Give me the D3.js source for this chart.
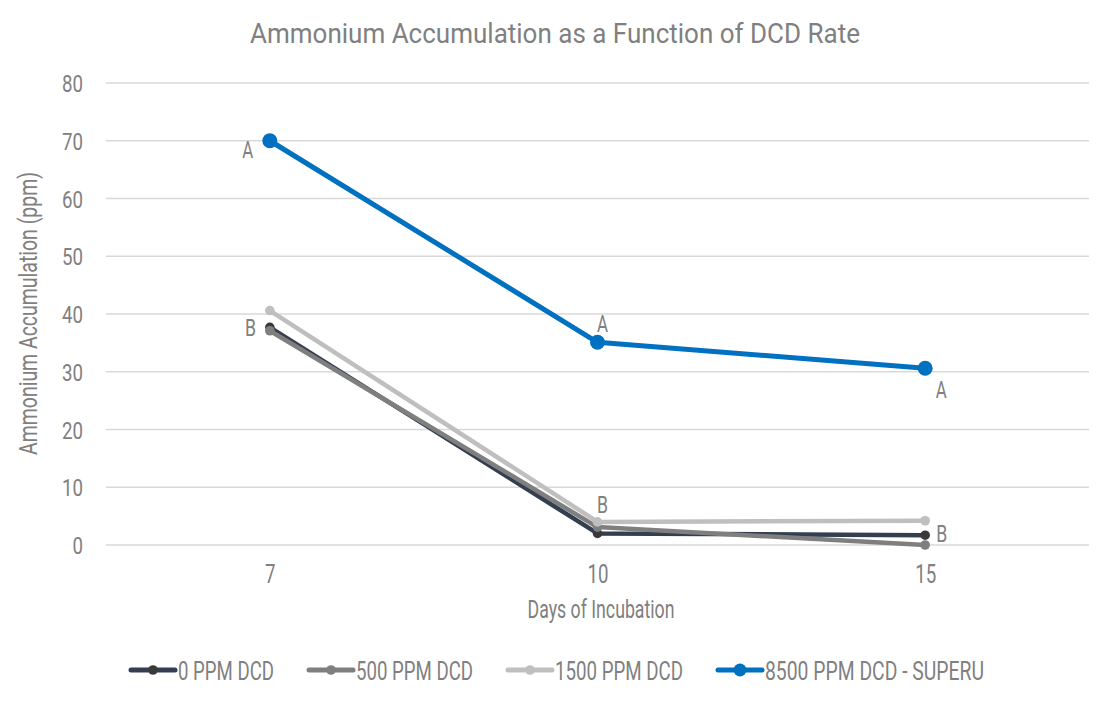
<!DOCTYPE html>
<html>
<head>
<meta charset="utf-8">
<script src="https://cdn.jsdelivr.net/npm/d3@7"></script>
<style>
  html, body { margin: 0; padding: 0; background: #ffffff; }
  svg { display: block; }
  text { font-family: "Roboto", "Liberation Sans", sans-serif; fill: #808080; }
</style>
</head>
<body>
<svg id="chart" width="1112" height="705"></svg>
<script>
// ---------------- data ----------------
const days = ["7", "10", "15"];
const yTicks = [0, 10, 20, 30, 40, 50, 60, 70, 80];
const seriesNames = ["0 PPM DCD", "500 PPM DCD", "1500 PPM DCD", "8500 PPM DCD - SUPERU"];
const dcd0 = [37.7, 2.0, 1.7];
const dcd500 = [37.1, 3.1, 0.0];
const dcd1500 = [40.6, 4.0, 4.2];
const dcd8500 = [70.0, 35.1, 30.6];
// letter labels: [series index, day index, text, placement]
const letterLabels = [
  [3, 0, "A", "left"],
  [3, 1, "A", "above"],
  [3, 2, "A", "below"],
  [0, 0, "B", "left"],
  [2, 1, "B", "above"],
  [0, 2, "B", "right"]
];
const titleText = "Ammonium Accumulation as a Function of DCD Rate";
const xTitle = "Days of Incubation";
const yTitle = "Ammonium Accumulation (ppm)";

// ---------------- styles ----------------
const lineColors = ["#333f50", "#7f7f7f", "#bfbfbf", "#0070c0"];
const markerColors = ["#3a3a3a", "#7f7f7f", "#bfbfbf", "#0070c0"];
const markerR = [4.8, 4.8, 4.8, 7.5];
const legendMarkerR = [4.8, 4.8, 4.8, 6.5];
const lineW = [4.5, 4.5, 4.5, 5];
const charW = 10.5; // condensed digit width

const svg = d3.select("#chart");
const plot = { left: 106, right: 1089, top: 83, bottom: 545 };

const x = d3.scalePoint().domain(days).range([plot.left, plot.right]).padding(0.5);
const y = d3.scaleLinear().domain([0, 80]).range([plot.bottom, plot.top]);

function fit(sel, w) {
  sel.attr("textLength", w).attr("lengthAdjust", "spacingAndGlyphs");
}

// title
svg.append("text").attr("x", 555).attr("y", 43).attr("text-anchor", "middle")
  .style("font-size", "27.5px").text(titleText).call(fit, 610);

// gridlines
svg.append("g").selectAll("line").data(yTicks).join("line")
  .attr("x1", plot.left).attr("x2", plot.right)
  .attr("y1", d => y(d)).attr("y2", d => y(d))
  .attr("stroke", "#d9d9d9").attr("stroke-width", 1.5);

// y axis
const yAxis = d3.axisLeft(y).tickValues(yTicks).tickSize(0).tickPadding(0);
const gy = svg.append("g").attr("transform", "translate(83,0)").call(yAxis);
gy.select(".domain").remove();
gy.selectAll("text").style("font-size", "24px").attr("fill", "#808080")
  .attr("font-family", null).attr("dy", "0.36em")
  .each(function () { const t = d3.select(this); t.call(fit, t.text().length * charW); });

// x axis
const xAxis = d3.axisBottom(x).tickSize(0).tickPadding(0);
const gx = svg.append("g").attr("transform", "translate(0,565)").call(xAxis);
gx.select(".domain").remove();
gx.selectAll("text").style("font-size", "25px").attr("fill", "#808080")
  .attr("font-family", null).attr("dy", "0.72em")
  .each(function () { const t = d3.select(this); t.call(fit, t.text().length * charW); });

// axis titles
svg.append("text").attr("x", 601).attr("y", 618).attr("text-anchor", "middle")
  .style("font-size", "26.5px").text(xTitle).call(fit, 147);
svg.append("text").attr("transform", "translate(37,313.5) rotate(-90)")
  .attr("text-anchor", "middle").style("font-size", "26.5px").text(yTitle).call(fit, 283);

// series
const allSeries = [dcd0, dcd500, dcd1500, dcd8500];
const line = d3.line().x((d, i) => x(days[i])).y(d => y(d));
allSeries.forEach((vals, s) => {
  const g = svg.append("g");
  g.append("path").datum(vals).attr("d", line).attr("fill", "none")
    .attr("stroke", lineColors[s]).attr("stroke-width", lineW[s])
    .attr("stroke-linejoin", "round").attr("stroke-linecap", "round");
  g.selectAll("circle").data(vals).join("circle")
    .attr("cx", (d, i) => x(days[i])).attr("cy", d => y(d))
    .attr("r", markerR[s]).attr("fill", markerColors[s]);
});

// letter labels
letterLabels.forEach(([s, i, t, pos]) => {
  const px = x(days[i]);
  const py = y(allSeries[s][i]);
  let tx = px, ty = py, anchor = "middle";
  const r = markerR[s];
  if (pos === "left") { tx = px - r - 9; ty = py + 8.5; anchor = "end"; if (s === 3) ty = py + 17; }
  if (pos === "above") { tx = px + 5; ty = py - r - 2.5; if (s !== 3) ty = py - r - 4.5; }
  if (pos === "below") { tx = px + 16; ty = py + r + 22.5; }
  if (pos === "right") { tx = px + 11; ty = py + 6.5; anchor = "start"; }
  svg.append("text").attr("x", tx).attr("y", ty).attr("text-anchor", anchor)
    .style("font-size", "24px").text(t).call(fit, 11);
});

// legend
const legendTextW = [96, 117, 128, 219];
const swatchW = 44, textGap = 3, itemGap = 35;
const totalW = d3.sum(legendTextW) + seriesNames.length * (swatchW + textGap) + (seriesNames.length - 1) * itemGap;
let lx = 557.5 - totalW / 2;
const ly = 670;
seriesNames.forEach((name, s) => {
  const g = svg.append("g").attr("transform", `translate(${lx},${ly})`);
  g.append("line").attr("x1", 0).attr("x2", swatchW).attr("y1", 0).attr("y2", 0)
    .attr("stroke", lineColors[s]).attr("stroke-width", 5).attr("stroke-linecap", "round");
  g.append("circle").attr("cx", swatchW / 2).attr("cy", 0).attr("r", legendMarkerR[s]).attr("fill", markerColors[s]);
  g.append("text").attr("x", swatchW + textGap).attr("y", 10).style("font-size", "26px")
    .text(name).call(fit, legendTextW[s]);
  lx += swatchW + textGap + legendTextW[s] + itemGap;
});
</script>
</body>
</html>
